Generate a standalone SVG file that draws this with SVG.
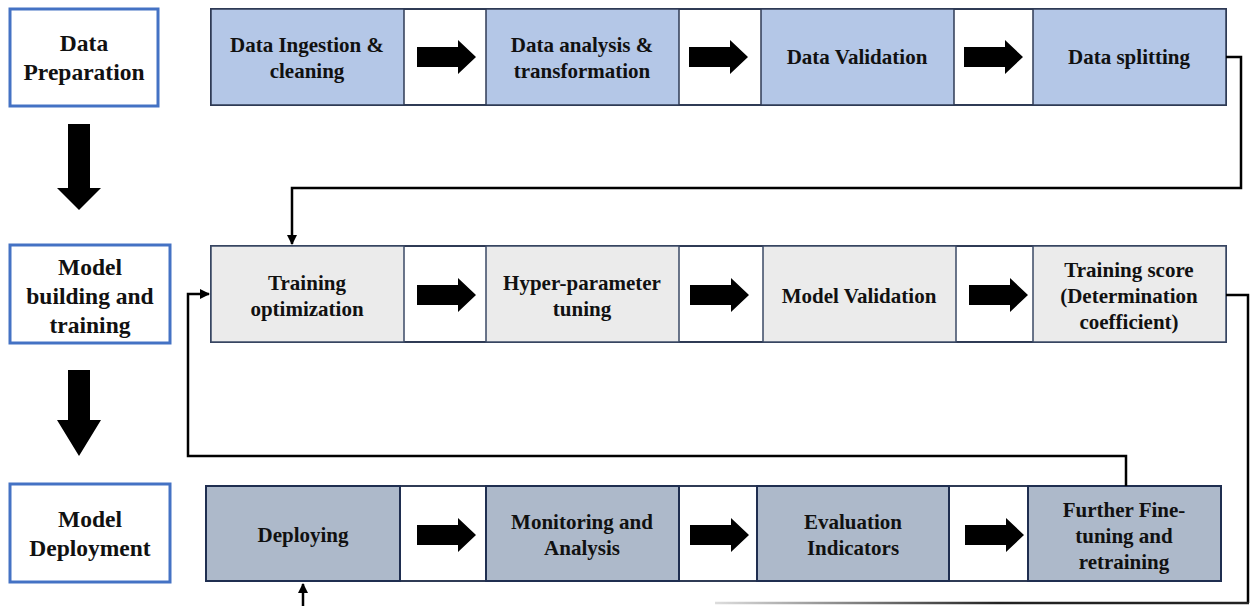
<svg xmlns="http://www.w3.org/2000/svg" width="1251" height="606" viewBox="0 0 1251 606">
<style>
.t text{font-family:'Liberation Serif','Times New Roman',serif;font-weight:bold;font-size:21px;fill:#111;text-anchor:middle}
.t .big text{font-size:23.5px}
.lbl{fill:#fff;stroke:#4472C4;stroke-width:3}
.band{fill:#fff;stroke:#2F3B55;stroke-width:2}
.r1{fill:#B4C7E7;stroke:#2F3B55;stroke-width:1.5}
.r2{fill:#EBEBEB;stroke:#3B4A66;stroke-width:1.5}
.r3{fill:#ADB9CA;stroke:#1F2E50;stroke-width:2}
.con{fill:none;stroke:#000;stroke-width:2.5}
</style>
<defs>
<path id="ra" d="M0,-10 H41 V-17 L59,0 L41,17 V10 H0 Z" fill="#000"/>
<marker id="ah" viewBox="0 0 10 10" refX="9" refY="5" markerWidth="4" markerHeight="4" orient="auto" markerUnits="strokeWidth"><path d="M0,0 L10,5 L0,10 Z" fill="#000"/></marker>
<linearGradient id="fade" x1="715" y1="0" x2="1000" y2="0" gradientUnits="userSpaceOnUse"><stop offset="0" stop-color="#ddd"/><stop offset="1" stop-color="#222"/></linearGradient>
</defs>
<g class="t">
<g class="big">
<g id="stage-data-preparation"><rect class="lbl" x="10" y="9" width="148" height="97"/><text x="84" y="51">Data</text><text x="84" y="80">Preparation</text></g>
<g id="stage-model-building"><rect class="lbl" x="10" y="245" width="160" height="98"/><text x="90" y="275">Model</text><text x="90" y="304">building and</text><text x="90" y="333">training</text></g>
<g id="stage-model-deployment"><rect class="lbl" x="10" y="484" width="160" height="98"/><text x="90" y="527">Model</text><text x="90" y="556">Deployment</text></g>
</g>

<g id="stage-arrows">
<path d="M68,124 H90 V188 H101 L79,210 L57,188 H68 Z" fill="#000"/>
<path d="M68,370 H90 V420 H101 L79,456 L57,420 H68 Z" fill="#000"/>
</g>

<g id="row1">
<rect class="band" x="211" y="9" width="1015" height="96"/>
<g id="n-ingestion"><rect class="r1" x="211" y="9" width="193" height="96"/><text x="307" y="52">Data Ingestion &amp;</text><text x="307" y="78">cleaning</text></g>
<g id="n-analysis"><rect class="r1" x="486" y="9" width="193" height="96"/><text x="582" y="52">Data analysis &amp;</text><text x="582" y="78">transformation</text></g>
<g id="n-validation"><rect class="r1" x="761" y="9" width="193" height="96"/><text x="857" y="64">Data Validation</text></g>
<g id="n-splitting"><rect class="r1" x="1033" y="9" width="193" height="96"/><text x="1129" y="64">Data splitting</text></g>
<use href="#ra" x="417" y="57"/><use href="#ra" x="689" y="57"/><use href="#ra" x="964" y="57"/>
</g>

<g id="row2">
<rect class="band" x="211" y="246" width="1015" height="96"/>
<g id="n-training-opt"><rect class="r2" x="211" y="246" width="193" height="96"/><text x="307" y="290">Training</text><text x="307" y="316">optimization</text></g>
<g id="n-hyper"><rect class="r2" x="486" y="246" width="193" height="96"/><text x="582" y="290">Hyper-parameter</text><text x="582" y="316">tuning</text></g>
<g id="n-model-validation"><rect class="r2" x="763" y="246" width="193" height="96"/><text x="859" y="303">Model Validation</text></g>
<g id="n-score"><rect class="r2" x="1033" y="246" width="193" height="96"/><text x="1129" y="277">Training score</text><text x="1129" y="303">(Determination</text><text x="1129" y="329">coefficient)</text></g>
<use href="#ra" x="417" y="295"/><use href="#ra" x="690" y="295"/><use href="#ra" x="969" y="295"/>
</g>

<g id="row3">
<rect class="band" x="206" y="486" width="1015" height="95"/>
<g id="n-deploying"><rect class="r3" x="206" y="486" width="194" height="95"/><text x="303" y="542">Deploying</text></g>
<g id="n-monitoring"><rect class="r3" x="486" y="486" width="193" height="95"/><text x="582" y="529">Monitoring and</text><text x="582" y="555">Analysis</text></g>
<g id="n-evaluation"><rect class="r3" x="757" y="486" width="192" height="95"/><text x="853" y="529">Evaluation</text><text x="853" y="555">Indicators</text></g>
<g id="n-further"><rect class="r3" x="1028" y="486" width="193" height="95"/><text x="1124" y="517">Further Fine-</text><text x="1124" y="543">tuning and</text><text x="1124" y="569">retraining</text></g>
<use href="#ra" x="417" y="535"/><use href="#ra" x="690" y="535"/><use href="#ra" x="965" y="535"/>
</g>
</g>
<g id="connectors">
<path class="con" d="M1226,57 H1241 V188 H292 V244" marker-end="url(#ah)"/>
<path class="con" d="M1126,486 V456 H188 V294 H209" marker-end="url(#ah)"/>
<path class="con" d="M1226,295 H1248 V603"/>
<path d="M1249,603 H715" fill="none" stroke="url(#fade)" stroke-width="2.5"/>
<path class="con" d="M303,606 V584" marker-end="url(#ah)"/>
</g>
</svg>
